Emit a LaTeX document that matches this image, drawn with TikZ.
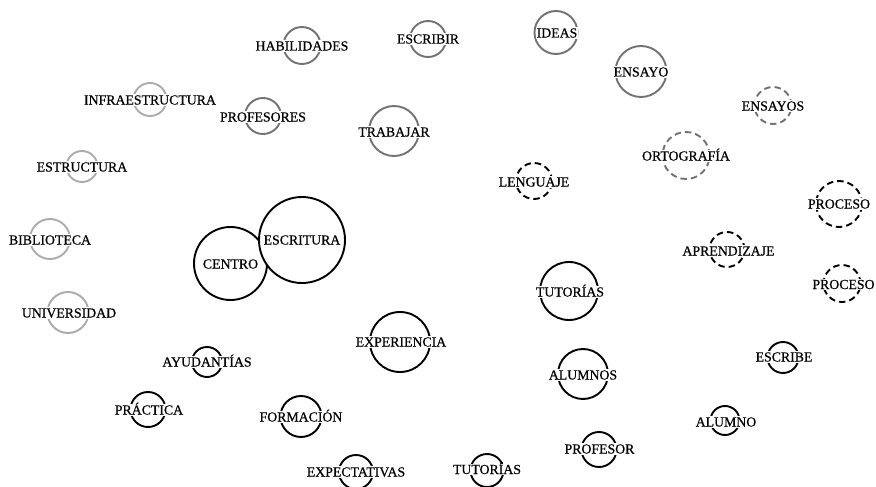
\documentclass[tikz,border=0pt]{standalone}
\usepackage{fontspec}
\setmainfont{Liberation Serif}
\newfontfamily\wordfont{Liberation Serif}[FakeBold=0.5]
\usepackage{tikz}
\definecolor{midgray}{HTML}{727272}
\definecolor{palegray}{HTML}{ABABAB}

\begin{document}
\begin{tikzpicture}[x=1pt,y=-1pt,line join=round]
\tikzstyle{word} = [fill=white,font=\wordfont\fontsize{13.8}{14}\selectfont,inner xsep=1pt,inner ysep=1pt,text height=9.4pt,text depth=.4pt]
\tikzstyle{ring} = [line width=1.9pt]
\tikzstyle{dotring} = [ring,dash pattern=on 6.5pt off 4pt]
\useasboundingbox (0,0) rectangle (876,487);
% light gray rings
\draw[ring,palegray] (150,99.5) circle (16.5pt);
\draw[ring,palegray] (82,166.5) circle (15.5pt);
\draw[ring,palegray] (50,239) circle (20pt);
\draw[ring,palegray] (68,312.5) circle (20.5pt);
% gray rings
\draw[ring,midgray] (302,45.5) circle (18.5pt);
\draw[ring,midgray] (428,39) circle (18pt);
\draw[ring,midgray] (263,116) circle (18pt);
\draw[ring,midgray] (394,131) circle (25pt);
\draw[ring,midgray] (556,32.5) circle (21.5pt);
\draw[ring,midgray] (641,71.5) circle (25.5pt);
\draw[dotring,midgray] (773,105.5) circle (18.5pt);
\draw[dotring,midgray] (686,155.5) circle (23.5pt);
% black dashed rings
\draw[dotring] (534,181) circle (18pt);
\draw[dotring] (839,204) circle (23pt);
\draw[dotring] (727,249.5) circle (17.5pt);
\draw[dotring] (842,283.5) circle (18.5pt);
% black rings
\filldraw[ring,fill=white] (230.5,263.5) circle (36.5pt);
\filldraw[ring,fill=white] (302,240) circle (43pt);
\draw[ring] (400,342) circle (30pt);
\draw[ring] (207,362) circle (15pt);
\draw[ring] (148,409.5) circle (17.5pt);
\draw[ring] (301,416.5) circle (20.5pt);
\draw[ring] (356,472) circle (17pt);
\draw[ring] (569,291) circle (29pt);
\draw[ring] (583,374) circle (25pt);
\draw[ring] (783,357.5) circle (15.5pt);
\draw[ring] (725,420.5) circle (14.5pt);
\draw[ring] (599,449.5) circle (17.5pt);
\draw[ring] (487,470.5) circle (16.5pt);
\path[word]
          (150,100) node[word] (infraestructura) {INFRAESTRUCTURA}
          (82,167) node[word] (estructura) {ESTRUCTURA}
          (50,240) node[word] (biblioteca) {BIBLIOTECA}
          (69,313) node[word] (universidad) {UNIVERSIDAD};
\path[word]
          (302,46) node[word] (habilidades) {HABILIDADES}
          (428,39) node[word] (escribir) {ESCRIBIR}
          (263,117) node[word] (profesores) {PROFESORES}
          (394,132) node[word] (trabajar) {TRABAJAR}
          (557,33) node[word] (ideas) {IDEAS}
          (641,72) node[word] (ensayo) {ENSAYO}
          (773,106) node[word] (ensayos) {ENSAYOS}
          (686,156) node[word] (ortografia) {ORTOGRAFÍA};
\path[word]
          (534,182) node[word] (lenguaje) {LENGUAJE}
          (839,204) node[word] (procesoA) {PROCESO}
          (728.5,251) node[word] (aprendizaje) {APRENDIZAJE}
          (843.5,284.5) node[word] (procesoB) {PROCESO};
\path[word]
          (230.5,264) node[word] (centro) {CENTRO}
          (302,240) node[word] (escritura) {ESCRITURA}
          (401,342) node[word] (experiencia) {EXPERIENCIA}
          (207,362) node[word] (ayudantias) {AYUDANTÍAS}
          (149,410) node[word] (practica) {PRÁCTICA}
          (301,417) node[word] (formacion) {FORMACIÓN}
          (356,472) node[word] (expectativas) {EXPECTATIVAS}
          (570,292) node[word] (tutoriasA) {TUTORÍAS}
          (583,375) node[word] (alumnos) {ALUMNOS}
          (784,357) node[word] (escribe) {ESCRIBE}
          (726,422) node[word] (alumno) {ALUMNO}
          (599.5,449) node[word] (profesor) {PROFESOR}
          (487,469.5) node[word] (tutoriasB) {TUTORÍAS};
\end{tikzpicture}
\end{document}
